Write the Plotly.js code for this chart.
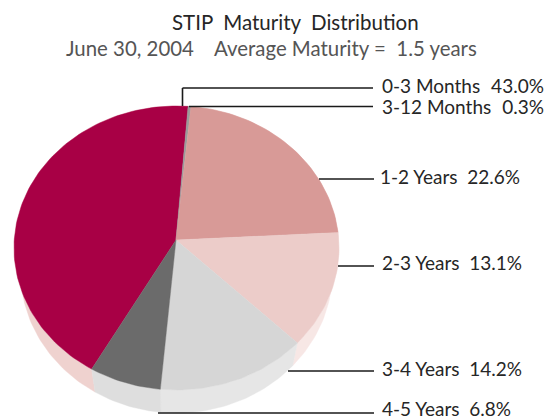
<!DOCTYPE html>
<html>
<head>
<meta charset="utf-8">
<script src="https://cdn.plot.ly/plotly-3.0.1.min.js"></script>
<style>html,body{margin:0;padding:0;background:#fff}#chart{width:554px;height:420px}</style>
</head>
<body>
<div id="chart"></div>
<script>
var categories = ["0-3 Months", "3-12 Months", "1-2 Years", "2-3 Years", "3-4 Years", "4-5 Years"];
var shares = [43.0, 0.3, 22.6, 13.1, 14.2, 6.8];
var topColors = ["#A80045", "#9A9A9A", "#D89A97", "#ECCCC9", "#D6D6D6", "#6B6B6B"];
var sideColors = ["#EFD2CF", "#EFD2CF", "#E8C0BD", "#F7E7E5", "#E6E6E6", "#DEDEDE"];
var titleText = "STIP\u00A0 Maturity\u00A0 Distribution";
var subtitleText = "June 30, 2004 \u00A0\u00A0 Average Maturity = \u00A01.5 years";

var FONT = "Lato, 'Open Sans', sans-serif";
var top3d = {cx: 176.5, cy: 248, rx: 162.5, ry: 142, ax: 176, ay: 240};
var low3d = {cx: 176.5, cy: 271, rx: 156, ry: 142, ax: 176, ay: 263};
var startDeg = 5.6 - 155.88; // clockwise from 12 o'clock, where the first slice begins

// the point of the ellipse reached from the slices' apex at a given true pie angle
function pt(e, deg) {
  var r = deg * Math.PI / 180;
  var px = (e.ax - e.cx) / e.rx, py = (e.ay - e.cy) / e.ry;
  var dx = Math.sin(r), dy = -Math.cos(r);
  var b = px * dx + py * dy, c = px * px + py * py - 1;
  var s = -b + Math.sqrt(b * b - c);
  return [e.cx + e.rx * (px + s * dx), e.cy + e.ry * (py + s * dy)];
}
function arc(e, a, b) {
  var n = Math.max(2, Math.ceil(Math.abs(b - a) / 1.5)), o = [];
  for (var i = 0; i <= n; i++) o.push(pt(e, a + (b - a) * i / n));
  return o;
}
function poly(points, color) {
  var first = points[0];
  var all = points.concat([first]);
  return {
    type: "scatter", mode: "lines", fill: "toself", fillcolor: color,
    x: all.map(function (p) { return p[0]; }),
    y: all.map(function (p) { return p[1]; }),
    line: {color: color, width: 0.4}, hoverinfo: "skip", showlegend: false
  };
}

var total = shares.reduce(function (s, v) { return s + v; }, 0);
var sides = [], tops = [], cur = startDeg;
shares.forEach(function (v, i) {
  var next = cur + v / total * 360;
  sides.push(poly(arc(top3d, cur, next).concat(arc(low3d, next, cur)), sideColors[i]));
  tops.push(poly([[top3d.ax, top3d.ay]].concat(arc(top3d, cur, next)), topColors[i]));
  cur = next;
});
// the back of the pie is painted first
var traces = sides.concat(tops);

var labelPos = [[380, 85], [380, 106], [378, 176], [380, 262], [380, 368], [380, 408]];
var labelGap = ["\u00A0\u00A0\u200A", "\u00A0\u00A0\u200A", "\u00A0\u00A0", "\u00A0\u00A0", "\u00A0\u00A0", "\u00A0\u00A0"];
var annotations = categories.map(function (c, i) {
  return {
    xref: "x", yref: "y", x: labelPos[i][0], y: labelPos[i][1], xanchor: "left", yanchor: "middle",
    text: c + labelGap[i] + shares[i].toFixed(1) + "%", showarrow: false,
    font: {family: FONT, size: 19, color: "#262626"}
  };
});
annotations.push({xref: "x", yref: "y", x: 295, y: 22, xanchor: "center", yanchor: "middle",
  text: titleText, showarrow: false, font: {family: FONT, size: 20.5, color: "#262626"}});
annotations.push({xref: "x", yref: "y", x: 271, y: 48, xanchor: "center", yanchor: "middle",
  text: subtitleText, showarrow: false, font: {family: FONT, size: 20.4, color: "#555"}});

function seg(x0, y0, x1, y1) {
  return {type: "line", xref: "x", yref: "y", x0: x0, y0: y0, x1: x1, y1: y1,
    line: {color: "#1a1a1a", width: 1.6}, layer: "above"};
}
var shapes = [
  seg(182.5, 88, 373, 88), seg(182.5, 88, 182.5, 106),
  seg(189, 106.5, 373, 106.5),
  seg(319, 179, 374, 179), seg(338, 266, 374, 266),
  seg(288, 371, 374, 371), seg(158, 413, 374, 413)
];

Plotly.newPlot("chart", traces, {
  width: 554, height: 420,
  margin: {l: 0, r: 0, t: 0, b: 0},
  paper_bgcolor: "#fff", plot_bgcolor: "#fff",
  xaxis: {range: [0, 554], visible: false, fixedrange: true},
  yaxis: {range: [420, 0], visible: false, fixedrange: true},
  annotations: annotations, shapes: shapes, showlegend: false
}, {displayModeBar: false, staticPlot: true});
</script>
</body>
</html>
